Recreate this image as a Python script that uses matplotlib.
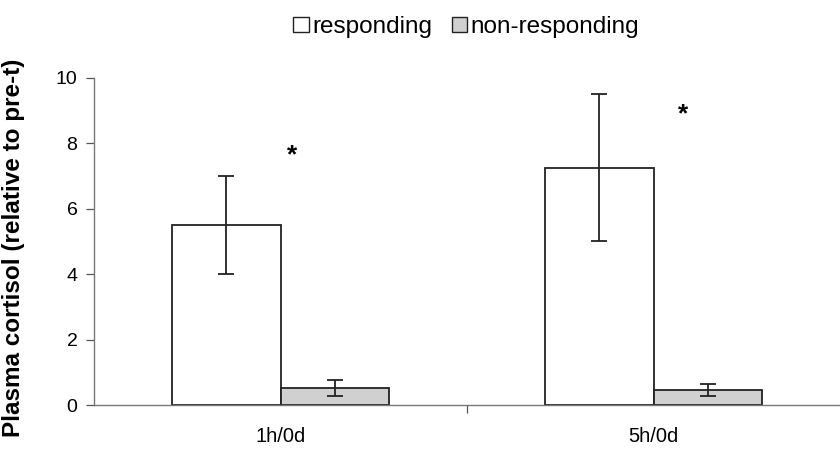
import numpy as np
import matplotlib.pyplot as plt
from matplotlib.patches import Patch

plt.rcParams['font.family'] = ['Liberation Sans', 'DejaVu Sans']

groups = ['1h/0d', '5h/0d']
responding = [5.5, 7.25]
responding_err = [1.5, 2.25]
nonresp = [0.52, 0.46]
nonresp_err = [0.23, 0.18]
star_x = [0.53, 1.58]
star_y = [7.65, 8.9]


def main():
    fig = plt.figure(figsize=(8.4, 4.5), dpi=100)
    ax = fig.add_axes([0.112, 0.1, 0.888, 0.7267])

    x = np.arange(len(groups)) + 0.5
    w = 0.29
    ax.bar(x - w / 2, responding, w, color='white', edgecolor='#222222', linewidth=1.3,
           yerr=responding_err, capsize=6,
           error_kw=dict(ecolor='#222222', elinewidth=1.3, capthick=1.3), zorder=2)
    ax.bar(x + w / 2, nonresp, w, color='#cfd0cf', edgecolor='#222222', linewidth=1.3,
           yerr=nonresp_err, capsize=5.5,
           error_kw=dict(ecolor='#222222', elinewidth=1.3, capthick=1.3), zorder=2)

    for sx, sy in zip(star_x, star_y):
        ax.text(sx, sy, '*', ha='center', va='center', fontsize=19, fontweight='bold')

    ax.set_xlim(0, 2)
    ax.set_ylim(0, 10)
    ax.set_yticks([0, 2, 4, 6, 8, 10])
    ax.set_xticks([1])
    ax.set_xticklabels([''])
    ax.set_xticks(x, minor=True)
    ax.set_xticklabels(groups, minor=True)
    ax.tick_params(axis='x', which='minor', length=0, pad=16, labelsize=14.5)
    ax.tick_params(axis='x', which='major', length=6, width=0.9, color='#555555')
    ax.tick_params(axis='y', length=6, width=0.9, color='#555555', labelsize=14, pad=6)

    for s in ['top', 'right']:
        ax.spines[s].set_visible(False)
    ax.spines['left'].set_color('#777777')
    ax.spines['bottom'].set_color('#777777')
    ax.spines['left'].set_linewidth(1.0)
    ax.spines['bottom'].set_linewidth(1.0)

    ax.set_ylabel('Plasma cortisol (relative to pre-t)', fontsize=17.5, fontweight='bold')
    ax.yaxis.set_label_coords(-0.092, 0.482)

    handles = [Patch(facecolor='white', edgecolor='#222222', linewidth=1.0),
               Patch(facecolor='#cfd0cf', edgecolor='#222222', linewidth=1.0)]
    fig.legend(handles, ['responding', 'non-responding'], loc='center', bbox_to_anchor=(0.555, 0.94),
               ncol=2, frameon=False, fontsize=17.5, handlelength=0.62, handleheight=0.62,
               handletextpad=0.15, columnspacing=0.8)

    fig.savefig('out.png', dpi=100)


if __name__ == '__main__':
    main()
